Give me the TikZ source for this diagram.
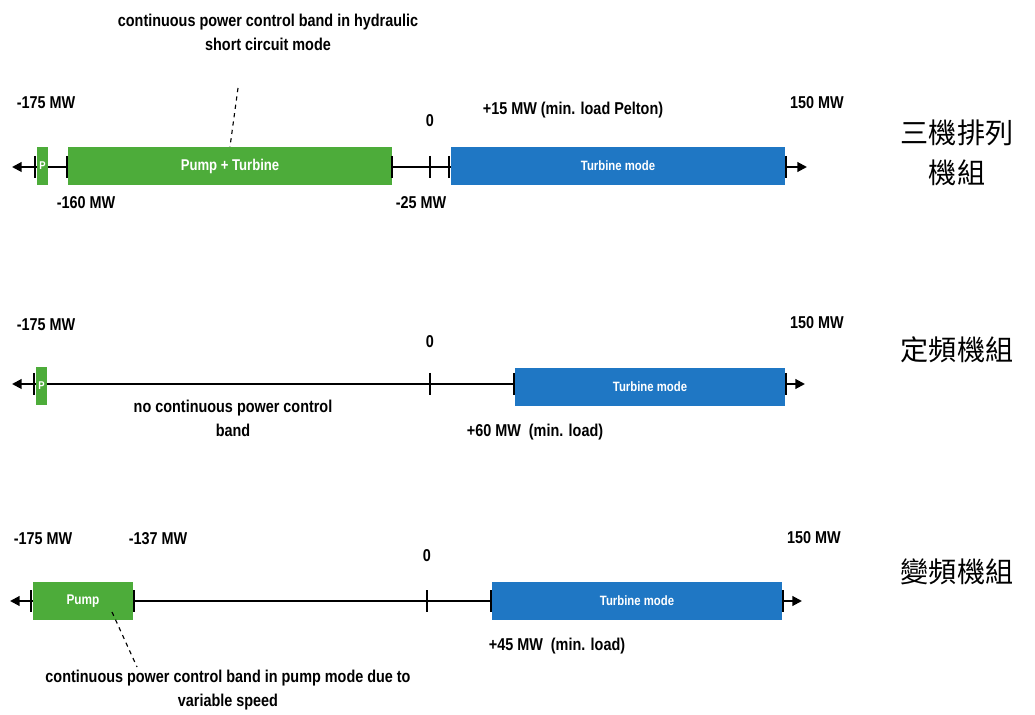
\documentclass[tikz,border=0pt]{standalone}
\usepackage{fontspec}
\setmainfont{Liberation Sans}[FakeStretch=0.84]
\newfontfamily\cjk{Noto Sans CJK TC}
\usetikzlibrary{arrows.meta}
\definecolor{pgreen}{RGB}{77,172,58}
\definecolor{tblue}{RGB}{31,119,196}

\begin{document}
\begin{tikzpicture}[x=0.025cm, y=-0.025cm,
  >={Triangle[length=2.4mm, width=2.4mm]},
  axis/.style={<->, line width=1.4pt},
  tick/.style={line width=1.3pt},
  band/.style={inner sep=0pt, minimum height=0.95cm, text=white,
    font=\bfseries\fontsize{9.6}{11}\selectfont},
  lbl/.style={inner sep=0pt, align=center,
    font=\bfseries\fontsize{12.2}{17}\selectfont},
  cn/.style={inner sep=0pt, align=center,
    font=\cjk\fontsize{20}{28.5}\selectfont},
  lead/.style={dashed, line width=0.8pt}]

  \useasboundingbox (0,0) rectangle (1035,715);

  % three-machine set
  \coordinate (l1) at (12,167);
  \coordinate (r1) at (807,167);
  \draw[axis] (l1) -- (r1);
  \node[band, fill=pgreen, minimum width=0.275cm,
    font=\bfseries\fontsize{8}{9}\selectfont] (p1) at (42.5,166) {P};
  \node[band, fill=pgreen, minimum width=8.1cm,
    font=\bfseries\fontsize{11.1}{12}\selectfont] (pt1) at (230,166) {Pump + Turbine};
  \node[band, fill=tblue, minimum width=8.35cm] (tb1) at (618,166) {Turbine mode};
  \foreach \t in {35,67,392,430,449,786} \draw[tick] (\t,156) -- (\t,178);
  \node[lbl] (m175a) at (46,103) {-175 MW};
  \node[lbl] (zeroa) at (430,121) {0};
  \node[lbl] (p15)   at (573,110) {+15 MW (min. load Pelton)};
  \node[lbl] (m150a) at (817,103) {150 MW};
  \node[lbl] (m160)  at (86,203)  {-160 MW};
  \node[lbl] (m25)   at (421,203) {-25 MW};
  \node[lbl] (ann1)  at (268,32)  {continuous power control band in hydraulic\\short circuit mode};
  \coordinate (a1) at (238,88);
  \draw[lead] (a1) -- (pt1.north);
  \node[cn] (set1) at (957,153) {三機排列\\機組};

  % fixed speed
  \coordinate (l2) at (12,384);
  \coordinate (r2) at (805,384);
  \draw[axis] (l2) -- (r2);
  \node[band, fill=pgreen, minimum width=0.275cm,
    font=\bfseries\fontsize{8}{9}\selectfont] (p2) at (41.5,386) {P};
  \node[band, fill=tblue, minimum width=6.75cm] (tb2) at (650,387) {Turbine mode};
  \foreach \t in {34,430,514,786} \draw[tick] (\t,373) -- (\t,395);
  \node[lbl] (m175b) at (46,325)  {-175 MW};
  \node[lbl] (zerob) at (430,342) {0};
  \node[lbl] (m150b) at (817,323) {150 MW};
  \node[lbl] (nob)   at (233,418) {no continuous power control\\band};
  \node[lbl] (p60)   at (535,432) {+60 MW\ \ (min. load)};
  \node[cn] (set2) at (957,350) {定頻機組};

  % variable speed
  \coordinate (l3) at (10,601);
  \coordinate (r3) at (802,601);
  \draw[axis] (l3) -- (r3);
  \node[band, fill=pgreen, minimum width=2.5cm,
    font=\bfseries\fontsize{10}{11}\selectfont] (pu3) at (83,601) {Pump};
  \node[band, fill=tblue, minimum width=7.25cm] (tb3) at (637,601) {Turbine mode};
  \foreach \t in {31,134,427,491,783} \draw[tick] (\t,590) -- (\t,612);
  \node[lbl] (m175c) at (43,539)  {-175 MW};
  \node[lbl] (m137)  at (158,539) {-137 MW};
  \node[lbl] (zeroc) at (427,556) {0};
  \node[lbl] (m150c) at (814,538) {150 MW};
  \node[lbl] (p45)   at (557,646) {+45 MW\ \ (min. load)};
  \node[lbl] (ann3)  at (228,690) {continuous power control band in pump mode due to\\variable speed};
  \coordinate (c3) at (112,612);
  \coordinate (d3) at (137,667);
  \draw[lead] (c3) -- (d3);
  \node[cn] (set3) at (957,572) {變頻機組};
\end{tikzpicture}
\end{document}
